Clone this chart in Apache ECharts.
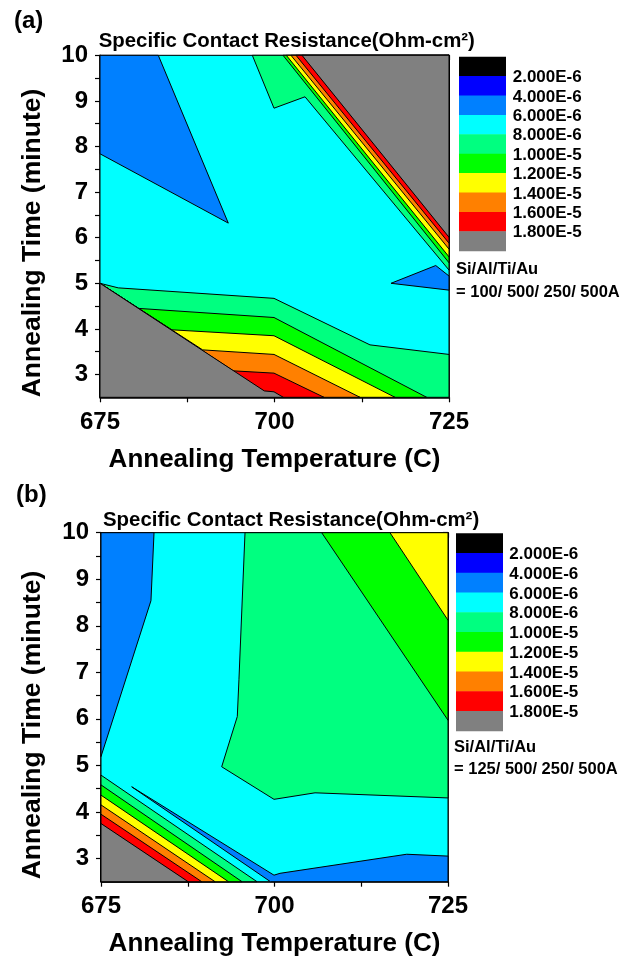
<!DOCTYPE html>
<html><head><meta charset="utf-8">
<script src="https://cdn.jsdelivr.net/npm/echarts@6.0.0/dist/echarts.min.js"></script>
<style>html,body{margin:0;padding:0;background:#fff}#c{width:636px;height:962px}</style>
</head><body><div id="c"></div>
<script>
// ---- level colours and legend labels ----
const levelColors = ['#000000','#0000FF','#0080FF','#00FFFF','#00FF80','#00FF00','#FFFF00','#FF8000','#FF0000','#808080'];
const legendLabels = ['2.000E-6','4.000E-6','6.000E-6','8.000E-6','1.000E-5','1.200E-5','1.400E-5','1.600E-5','1.800E-5'];
const chartTitle = 'Specific Contact Resistance(Ohm-cm²)';
const stackA = ['Si/Al/Ti/Au', '= 100/ 500/ 250/ 500A'];
const stackB = ['Si/Al/Ti/Au', '= 125/ 500/ 250/ 500A'];

// ---- axes ----
const xRange = [675, 725];
const yRange = [2.5, 10];
const xLabelVals = [675, 700, 725];
const xTickVals = [675, 687.5, 700, 712.5, 725];
const yLabelVals = [3, 4, 5, 6, 7, 8, 9, 10];
const yTickVals = [3, 3.5, 4, 4.5, 5, 5.5, 6, 6.5, 7, 7.5, 8, 8.5, 9, 9.5, 10];

// ---- panel (a) contour regions: [temperature C, time min]; level index into levelColors ----
const aBase       = [[675,2.5],[725,2.5],[725,10],[675,10]];
const aBlueTop    = [[675,10],[683.35,10],[693.38,6.32],[675,7.84]];
const aBlueRight  = [[716.69,5.0],[723.10,5.39],[725,5.16],[725,4.85]];
const aTopSg      = [[696.82,10],[699.93,8.84],[704.37,9.09],[725,5.29],[725,10]];
const aTopGreen   = [[701.22,10],[725,5.45],[725,10]];
const aTopYellow  = [[701.69,10],[725,5.58],[725,10]];
const aTopOrange  = [[702.36,10],[725,5.75],[725,10]];
const aTopRed     = [[703.08,10],[725,5.88],[725,10]];
const aTopGray    = [[703.94,10],[725,6.01],[725,10]];
const aBotSg      = [[675,5.0],[677.62,4.90],[699.93,4.67],[713.68,3.65],[725,3.44],[725,2.5],[675,2.5]];
const aBotGreen   = [[675,5.0],[680.49,4.45],[699.93,4.25],[721.8,2.5],[675,2.5]];
const aBotYellow  = [[675,5.0],[685.27,3.98],[699.93,3.85],[717.26,2.5],[675,2.5]];
const aBotOrange  = [[675,5.0],[689.71,3.54],[699.93,3.44],[712.25,2.5],[675,2.5]];
const aBotRed     = [[675,5.0],[694.10,3.08],[699.93,3.03],[707.09,2.5],[675,2.5]];
const aBotGray    = [[675,5.0],[698.54,2.64],[699.93,2.62],[701.26,2.5],[675,2.5]];

// ---- panel (b) contour regions ----
const bBase       = [[675,2.5],[725,2.5],[725,10],[675,10]];
const bBlueLeft   = [[675,10],[682.64,10],[682.2,8.54],[675,5.19]];
const bBlueBottom = [[679.42,4.54],[699.93,2.64],[700.79,2.68],[719.05,3.09],[725,3.05],[725,2.5],[699.42,2.5]];
const bSg         = [[695.75,10],[694.88,6.85],[694.64,6.05],[692.39,4.97],[699.93,4.27],[705.84,4.41],[725,4.30],[725,10]];
const bGreen      = [[706.8,10],[725,5.97],[725,10]];
const bYellow     = [[716.64,10],[725,8.12],[725,10]];
const bBotSg      = [[675,4.79],[697.48,2.5],[675,2.5]];
const bBotGreen   = [[675,4.58],[695.32,2.5],[675,2.5]];
const bBotYellow  = [[675,4.36],[693.37,2.5],[675,2.5]];
const bBotOrange  = [[675,4.15],[691.43,2.5],[675,2.5]];
const bBotRed     = [[675,3.95],[689.51,2.5],[675,2.5]];
const bBotGray    = [[675,3.75],[687.56,2.5],[675,2.5]];

const regionsA = [
  [aBase,3],[aBlueTop,2],[aBlueRight,2],
  [aTopSg,4],[aTopGreen,5],[aTopYellow,6],[aTopOrange,7],[aTopRed,8],[aTopGray,9],
  [aBotSg,4],[aBotGreen,5],[aBotYellow,6],[aBotOrange,7],[aBotRed,8],[aBotGray,9]
];
const regionsB = [
  [bBase,3],[bBlueLeft,2],[bBlueBottom,2],[bSg,4],[bGreen,5],[bYellow,6],
  [bBotSg,4],[bBotGreen,5],[bBotYellow,6],[bBotOrange,7],[bBotRed,8],[bBotGray,9]
];

const FONT = '"Liberation Sans", Arial, sans-serif';
const grids = [
  {left: 100, top: 55.3, width: 349, height: 342},
  {left: 101, top: 532.7, width: 347, height: 349}
];

function axesFor(g) {
  const line = {show: true, lineStyle: {color: '#000', width: 1.5}};
  const lab = {fontSize: 24, fontWeight: 'bold', fontFamily: FONT, color: '#000'};
  const xs = [
    {type:'value', gridIndex:g, min:xRange[0], max:xRange[1], position:'bottom', axisLine:line,
     splitLine:{show:false},
     axisTick:{show:true, inside:false, length:5, customValues:xTickVals, lineStyle:{color:'#000',width:1.2}},
     axisLabel:Object.assign({show:true, margin:13, customValues:xLabelVals}, lab)},
    {type:'value', gridIndex:g, min:xRange[0], max:xRange[1], position:'top', axisLine:line,
     splitLine:{show:false},
     axisTick:{show:true, inside:true, length:5, customValues:xTickVals, lineStyle:{color:'#000',width:1.2}},
     axisLabel:{show:false}}
  ];
  const ys = [
    {type:'value', gridIndex:g, min:yRange[0], max:yRange[1], position:'left', axisLine:line,
     splitLine:{show:false},
     axisTick:{show:true, inside:false, length:5, customValues:yTickVals, lineStyle:{color:'#000',width:1.2}},
     axisLabel:Object.assign({show:true, margin:12, customValues:yLabelVals}, lab)},
    {type:'value', gridIndex:g, min:yRange[0], max:yRange[1], position:'right', axisLine:line,
     splitLine:{show:false},
     axisTick:{show:true, inside:true, length:5, customValues:yTickVals, lineStyle:{color:'#000',width:1.2}},
     axisLabel:{show:false}}
  ];
  return {xs, ys};
}
const A0 = axesFor(0), A1 = axesFor(1);

function contourSeries(regions, axisBase) {
  return {
    type: 'custom',
    coordinateSystem: 'cartesian2d',
    xAxisIndex: axisBase, yAxisIndex: axisBase,
    silent: true,
    data: regions.map((r, i) => [r[0][0][0], r[0][0][1], i]),
    renderItem: function (params, api) {
      const r = regions[params.dataIndex];
      const pts = r[0].map(p => api.coord(p));
      return {type: 'polygon', shape: {points: pts},
              style: {fill: levelColors[r[1]], stroke: '#000', lineWidth: 1}};
    }
  };
}

function legendGraphics(bx, by, bw, bh, lx, stackLines, sx, sy1, sy2) {
  const els = [];
  levelColors.forEach((c, i) => {
    els.push({type:'rect', x: bx, y: by + i*bh, shape:{width: bw, height: bh + 0.5}, style:{fill: c}, silent:true});
  });
  legendLabels.forEach((t, i) => {
    els.push({type:'text', x: lx, y: by + (i+1)*bh + 1.5,
      style:{text: t, fill:'#000', font:'bold 17px ' + FONT, align:'left', verticalAlign:'middle', textAlign:'left', textVerticalAlign:'middle'}});
  });
  els.push({type:'text', x: sx, y: sy1, style:{text: stackLines[0], fill:'#000', font:'bold 16.5px ' + FONT, align:'left', verticalAlign:'middle', textAlign:'left', textVerticalAlign:'middle'}});
  els.push({type:'text', x: sx, y: sy2, style:{text: stackLines[1], fill:'#000', font:'bold 16.5px ' + FONT, align:'left', verticalAlign:'middle', textAlign:'left', textVerticalAlign:'middle'}});
  return els;
}

function txt(x, y, text, size, align, rot) {
  return {type:'text', x, y, rotation: rot || 0,
    style:{text, fill:'#000', font:'bold ' + size + 'px ' + FONT, align: align, verticalAlign:'middle', textAlign: align, textVerticalAlign:'middle'}};
}

const graphics = [].concat(
  legendGraphics(459, 56.7, 47, 19.4, 512.7, stackA, 456, 269.7, 292),
  legendGraphics(456, 533.3, 47, 19.74, 509.3, stackB, 454, 747.5, 769),
  [
    txt(14, 21, '(a)', 24, 'left'),
    txt(16, 495.5, '(b)', 24, 'left'),
    txt(98.7, 41.5, chartTitle, 20.4, 'left'),
    txt(103, 520, chartTitle, 20.4, 'left'),
    txt(33, 243, 'Annealing Time (minute)', 26.5, 'center', Math.PI/2),
    txt(33, 725, 'Annealing Time (minute)', 26.5, 'center', Math.PI/2),
    txt(274.5, 460, 'Annealing Temperature (C)', 26, 'center'),
    txt(274.5, 944, 'Annealing Temperature (C)', 26, 'center')
  ]
);

const chart = echarts.init(document.getElementById('c'), null, {renderer: 'canvas'});
chart.setOption({
  animation: false,
  backgroundColor: '#fff',
  grid: grids,
  xAxis: [A0.xs[0], A0.xs[1], A1.xs[0], A1.xs[1]],
  yAxis: [A0.ys[0], A0.ys[1], A1.ys[0], A1.ys[1]],
  series: [contourSeries(regionsA, 0), contourSeries(regionsB, 2)],
  graphic: graphics
});
</script></body></html>
